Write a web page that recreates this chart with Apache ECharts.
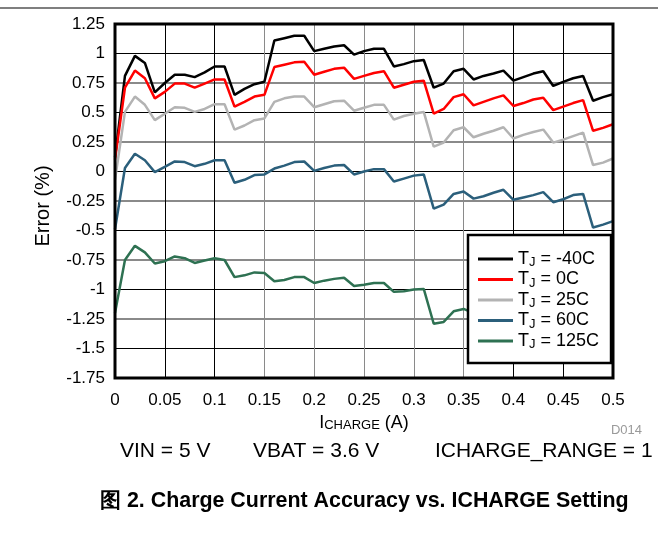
<!DOCTYPE html>
<html>
<head>
<meta charset="utf-8">
<script src="https://cdn.jsdelivr.net/npm/echarts@6/dist/echarts.min.js"></script>
<style>
html,body{margin:0;padding:0;background:#fff;}
#c{width:658px;height:537px;}
</style>
</head>
<body>
<div id="c"></div>
<script>
const xValues = [0,0.01,0.02,0.03,0.04,0.05,0.06,0.07,0.08,0.09,0.10,0.11,0.12,0.13,0.14,0.15,0.16,0.17,0.18,0.19,0.20,0.21,0.22,0.23,0.24,0.25,0.26,0.27,0.28,0.29,0.30,0.31,0.32,0.33,0.34,0.35,0.36,0.37,0.38,0.39,0.40,0.41,0.42,0.43,0.44,0.45,0.46,0.47,0.48,0.49,0.50];
const errM40 = [0.12,0.81,0.98,0.92,0.67,0.75,0.82,0.82,0.80,0.84,0.89,0.89,0.65,0.70,0.74,0.76,1.11,1.13,1.15,1.15,1.02,1.04,1.06,1.07,0.99,1.02,1.04,1.04,0.89,0.91,0.935,0.945,0.71,0.745,0.85,0.87,0.78,0.81,0.83,0.855,0.77,0.80,0.83,0.85,0.725,0.76,0.79,0.81,0.60,0.63,0.655];
const err0 = [0.10,0.71,0.855,0.79,0.62,0.675,0.745,0.745,0.71,0.745,0.78,0.78,0.55,0.59,0.635,0.65,0.885,0.905,0.925,0.93,0.82,0.845,0.87,0.88,0.785,0.81,0.835,0.85,0.71,0.735,0.76,0.77,0.49,0.53,0.63,0.655,0.56,0.59,0.62,0.645,0.555,0.58,0.61,0.625,0.52,0.55,0.58,0.605,0.345,0.37,0.40];
const err25 = [-0.07,0.505,0.635,0.565,0.435,0.49,0.545,0.54,0.505,0.53,0.57,0.57,0.355,0.39,0.435,0.45,0.59,0.62,0.635,0.635,0.545,0.57,0.595,0.60,0.515,0.54,0.565,0.565,0.44,0.47,0.49,0.505,0.21,0.245,0.35,0.375,0.29,0.32,0.345,0.375,0.28,0.31,0.335,0.355,0.245,0.27,0.30,0.33,0.055,0.075,0.11];
const err60 = [-0.49,0.03,0.15,0.095,-0.005,0.04,0.085,0.08,0.045,0.065,0.095,0.095,-0.095,-0.07,-0.03,-0.025,0.025,0.05,0.08,0.085,0.005,0.03,0.05,0.055,-0.025,0,0.02,0.02,-0.085,-0.06,-0.035,-0.025,-0.315,-0.28,-0.19,-0.17,-0.23,-0.21,-0.18,-0.155,-0.24,-0.22,-0.2,-0.175,-0.26,-0.235,-0.2,-0.19,-0.475,-0.45,-0.42];
const err125 = [-1.2,-0.75,-0.63,-0.685,-0.78,-0.76,-0.72,-0.735,-0.775,-0.755,-0.735,-0.75,-0.895,-0.88,-0.855,-0.86,-0.93,-0.92,-0.895,-0.895,-0.945,-0.925,-0.91,-0.90,-0.97,-0.96,-0.945,-0.945,-1.02,-1.015,-1.0,-0.995,-1.29,-1.275,-1.185,-1.165,-1.2,null,null,null,null,null,null,null,null,null,null,null,null,null,null];
const seriesNames = ['-40C','0C','25C','60C','125C'];
const seriesColors = ['#000000','#ff0000','#b3b3b3','#2b5f7b','#2e7152'];
const seriesValues = [errM40, err0, err25, err60, err125];
const conditions = ['VIN = 5 V','VBAT = 3.6 V','ICHARGE_RANGE = 1'];
const caption = '图 2. Charge Current Accuracy vs. ICHARGE Setting';

const FONT = '"Liberation Sans", Arial, sans-serif';
const chart = echarts.init(document.getElementById('c'), null, {renderer:'canvas'});

const series = seriesValues.map((vals, i) => ({
  name: seriesNames[i],
  type: 'line',
  symbol: 'none',
  showSymbol: false,
  connectNulls: false,
  animation: false,
  lineStyle: {color: seriesColors[i], width: 2.5},
  itemStyle: {color: seriesColors[i]},
  data: vals.map((v, k) => [xValues[k], v]),
  z: 3
}));

const T = 'rgba(0,0,0,0)';
const option = {
  animation: false,
  backgroundColor: '#fff',
  grid: {left: 115, right: 45, top: 24, bottom: 159, show: true, borderColor: '#000', borderWidth: 3, backgroundColor: 'transparent', z: 5},
  xAxis: [{
    type: 'value', min: 0, max: 0.5, interval: 0.05,
    axisLine: {show: false}, axisTick: {show: false},
    axisLabel: {fontFamily: FONT, fontSize: 17, color: '#000', margin: 14, formatter: v => String(+v.toFixed(2))},
    splitLine: {show: true, lineStyle: {color: [T,'#000','#000','#8a8a8a','#8a8a8a','#8a8a8a','#8a8a8a','#8a8a8a','#000','#000',T], width: 1}},
    name: '{a|I}{b|CHARGE}{a| (A)}',
    nameLocation: 'middle', nameGap: 34,
    nameTextStyle: {rich: {a: {fontFamily: FONT, fontSize: 18, color: '#000'}, b: {fontFamily: FONT, fontSize: 13, color: '#000', verticalAlign: 'bottom', padding: [6,0,0,0]}}}
  }],
  yAxis: [{
    type: 'value', min: -1.75, max: 1.25, interval: 0.25,
    axisLine: {show: false}, axisTick: {show: false},
    axisLabel: {fontFamily: FONT, fontSize: 17, color: '#000', margin: 10, formatter: v => String(+v.toFixed(2))},
    splitLine: {show: true, lineStyle: {color: [T,'#000'], width: 1}},
    name: 'Error (%)', nameLocation: 'middle', nameGap: 62,
    nameTextStyle: {fontFamily: FONT, fontSize: 20, color: '#000', padding: [0, 10, 0, 0]}
  },{
    type: 'value', min: -1.75, max: 1.25, interval: 0.25, position: 'left',
    axisLine: {show: false}, axisTick: {show: false}, axisLabel: {show: false},
    splitLine: {show: true, lineStyle: {color: ['#8a8a8a',T], width: 2}}
  }],
  legend: {
    orient: 'vertical', left: 468, top: 235,
    backgroundColor: '#fff', borderColor: '#000', borderWidth: 2.5,
    padding: [15, 12, 12, 10], itemGap: 1.5, itemWidth: 35, itemHeight: 3, itemTextGap: 10,
    icon: 'rect',
    data: seriesNames,
    formatter: n => '{t|T}{s|J}{t| = ' + n + '}',
    textStyle: {rich: {t: {fontFamily: FONT, fontSize: 18, color: '#000', lineHeight: 20}, s: {fontFamily: FONT, fontSize: 13, color: '#000', verticalAlign: 'bottom', padding: [6,0,0,0]}}},
    z: 10
  },
  graphic: [
    {type: 'line', shape: {x1: 0, y1: 8, x2: 658, y2: 8}, style: {stroke: '#000', lineWidth: 1.2}},
    {type: 'text', left: 120, top: 441, style: {text: conditions[0], font: '21px ' + FONT, fill: '#000'}},
    {type: 'text', left: 253, top: 441, style: {text: conditions[1], font: '21px ' + FONT, fill: '#000'}},
    {type: 'text', left: 435, top: 441, style: {text: conditions[2], font: '21px ' + FONT, fill: '#000'}},
    {type: 'text', right: 16, top: 424, style: {text: 'D014', font: '13px ' + FONT, fill: '#9a9a9a'}},
    {type: 'text', left: 100, top: 491, style: {text: caption, font: 'bold 21.4px ' + FONT, fill: '#000'}}
  ],
  series: series
};
chart.setOption(option);
</script>
</body>
</html>
